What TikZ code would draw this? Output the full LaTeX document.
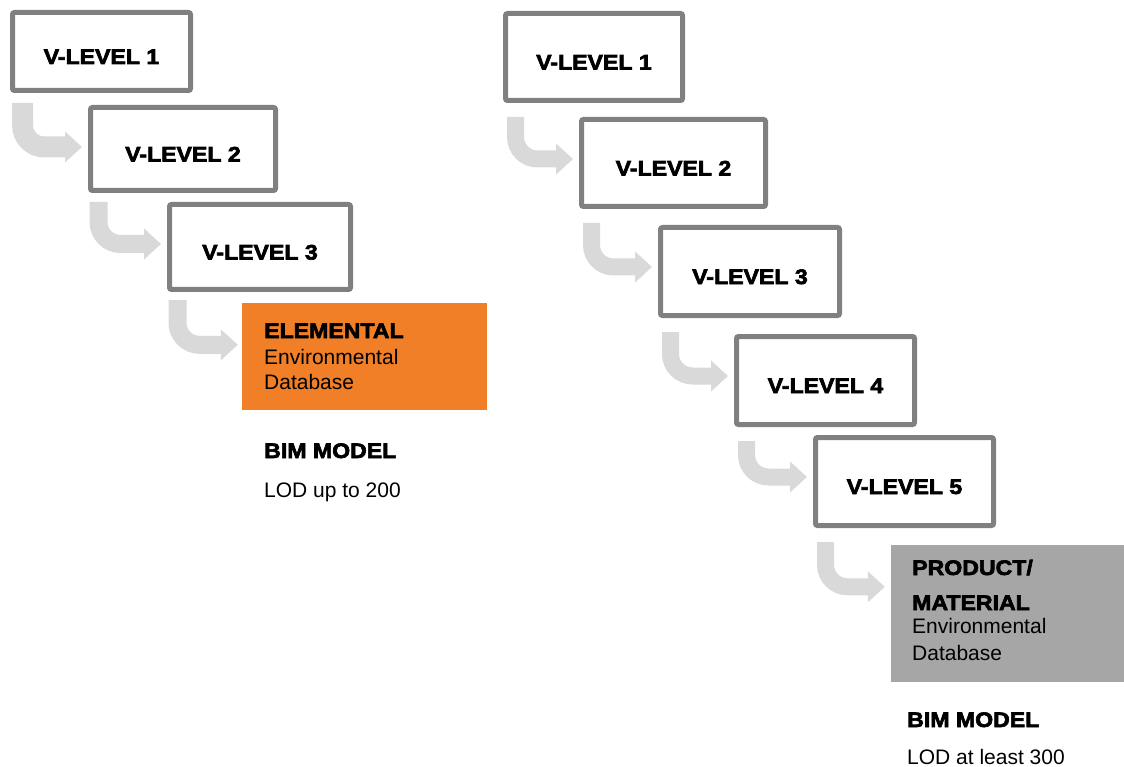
\documentclass[tikz,border=0pt]{standalone}
\usepackage{fontspec}
\setmainfont{Liberation Sans}
\newfontfamily\heavy[FakeBold=3,FakeStretch=1.1]{Liberation Sans Bold}
\usetikzlibrary{arrows.meta}

\definecolor{boxline}{HTML}{808080}
\definecolor{flowgray}{HTML}{D9D9D9}
\definecolor{elemorange}{HTML}{F07F28}
\definecolor{prodgray}{HTML}{A6A6A6}

\tikzset{
  levelbox/.style={draw=boxline, line width=5pt, rounded corners=2pt, fill=white,
    font=\heavy\fontsize{21}{24}\selectfont, text height=25pt, text depth=0pt, inner sep=0pt},
  dbbox/.style={inner sep=0pt, draw=none},
  flow/.style={draw=flowgray, line width=18pt, rounded corners=22pt,
    -{Triangle[width=30pt,length=17pt]}},
  headtext/.style={anchor=base west, inner sep=0pt, font=\heavy\fontsize{21}{24}\selectfont},
  bodytext/.style={anchor=base west, inner sep=0pt, font=\fontsize{21}{24}\selectfont},
}

\begin{document}
\begin{tikzpicture}[x=1pt, y=-1pt]
\useasboundingbox (0,0) rectangle (1124,767);

% ---- left cascade: elemental database ----
\node[levelbox, minimum width=178pt, minimum height=78pt] (l1) at (101.5,51.5) {V-LEVEL 1};
\node[levelbox, minimum width=185pt, minimum height=83pt] (l2) at (183,149) {V-LEVEL 2};
\node[levelbox, minimum width=181pt, minimum height=85pt] (l3) at (260,247) {V-LEVEL 3};
\node[dbbox, fill=elemorange, minimum width=245pt, minimum height=107pt] (elem) at (364.5,356.5) {};

\node[headtext] (elemhead) at (264,338) {ELEMENTAL};
\node[bodytext] (elemenv) at (264,364) {Environmental};
\node[bodytext] (elemdb) at (264,389) {Database};
\node[headtext] (bimleft) at (264,458) {BIM MODEL};
\node[bodytext] (lodleft) at (264,497) {LOD up to 200};

\draw[flow, line width=21pt] ([xshift=12.5pt,yshift=-10pt]l1.south west) |- ([xshift=-6pt,yshift=-42pt]l2.north west);
\draw[flow] ([xshift=10.5pt,yshift=-9pt]l2.south west) |- ([xshift=-6pt,yshift=-42pt]l3.north west);
\draw[flow] ([xshift=10.5pt,yshift=-8pt]l3.south west) |- ([xshift=-4pt,yshift=-42pt]elem.north west);

% ---- right cascade: product / material database ----
\node[levelbox, minimum width=177pt, minimum height=87pt] (r1) at (594,57) {V-LEVEL 1};
\node[levelbox, minimum width=184pt, minimum height=87pt] (r2) at (673.5,163) {V-LEVEL 2};
\node[levelbox, minimum width=179pt, minimum height=88pt] (r3) at (750,271.5) {V-LEVEL 3};
\node[levelbox, minimum width=178pt, minimum height=88pt] (r4) at (825.5,380.5) {V-LEVEL 4};
\node[levelbox, minimum width=178pt, minimum height=88pt] (r5) at (904.5,481.5) {V-LEVEL 5};
\node[dbbox, fill=prodgray, minimum width=233pt, minimum height=137pt] (prod) at (1007.5,613.5) {};

\node[headtext] (prodhead) at (912,575) {PRODUCT/};
\node[headtext] (prodmat) at (912,610) {MATERIAL};
\node[bodytext] (prodenv) at (912,633) {Environmental};
\node[bodytext] (proddb) at (912,660) {Database};
\node[headtext] (bimright) at (907,727) {BIM MODEL};
\node[bodytext] (lodright) at (907,764) {LOD at least 300};

\draw[flow, line width=17pt] ([xshift=12.5pt,yshift=-14pt]r1.south west) |- ([xshift=-6pt,yshift=-42pt]r2.north west);
\draw[flow, line width=17pt] ([xshift=12.5pt,yshift=-14pt]r2.south west) |- ([xshift=-6pt,yshift=-42pt]r3.north west);
\draw[flow, line width=17pt] ([xshift=12.5pt,yshift=-14pt]r3.south west) |- ([xshift=-6pt,yshift=-42pt]r4.north west);
\draw[flow, line width=17pt] ([xshift=12.5pt,yshift=-14pt]r4.south west) |- ([xshift=-6pt,yshift=-42pt]r5.north west);
\draw[flow, line width=17pt] ([xshift=12.5pt,yshift=-14pt]r5.south west) |- ([xshift=-6pt,yshift=-42pt]prod.north west);
\end{tikzpicture}
\end{document}
